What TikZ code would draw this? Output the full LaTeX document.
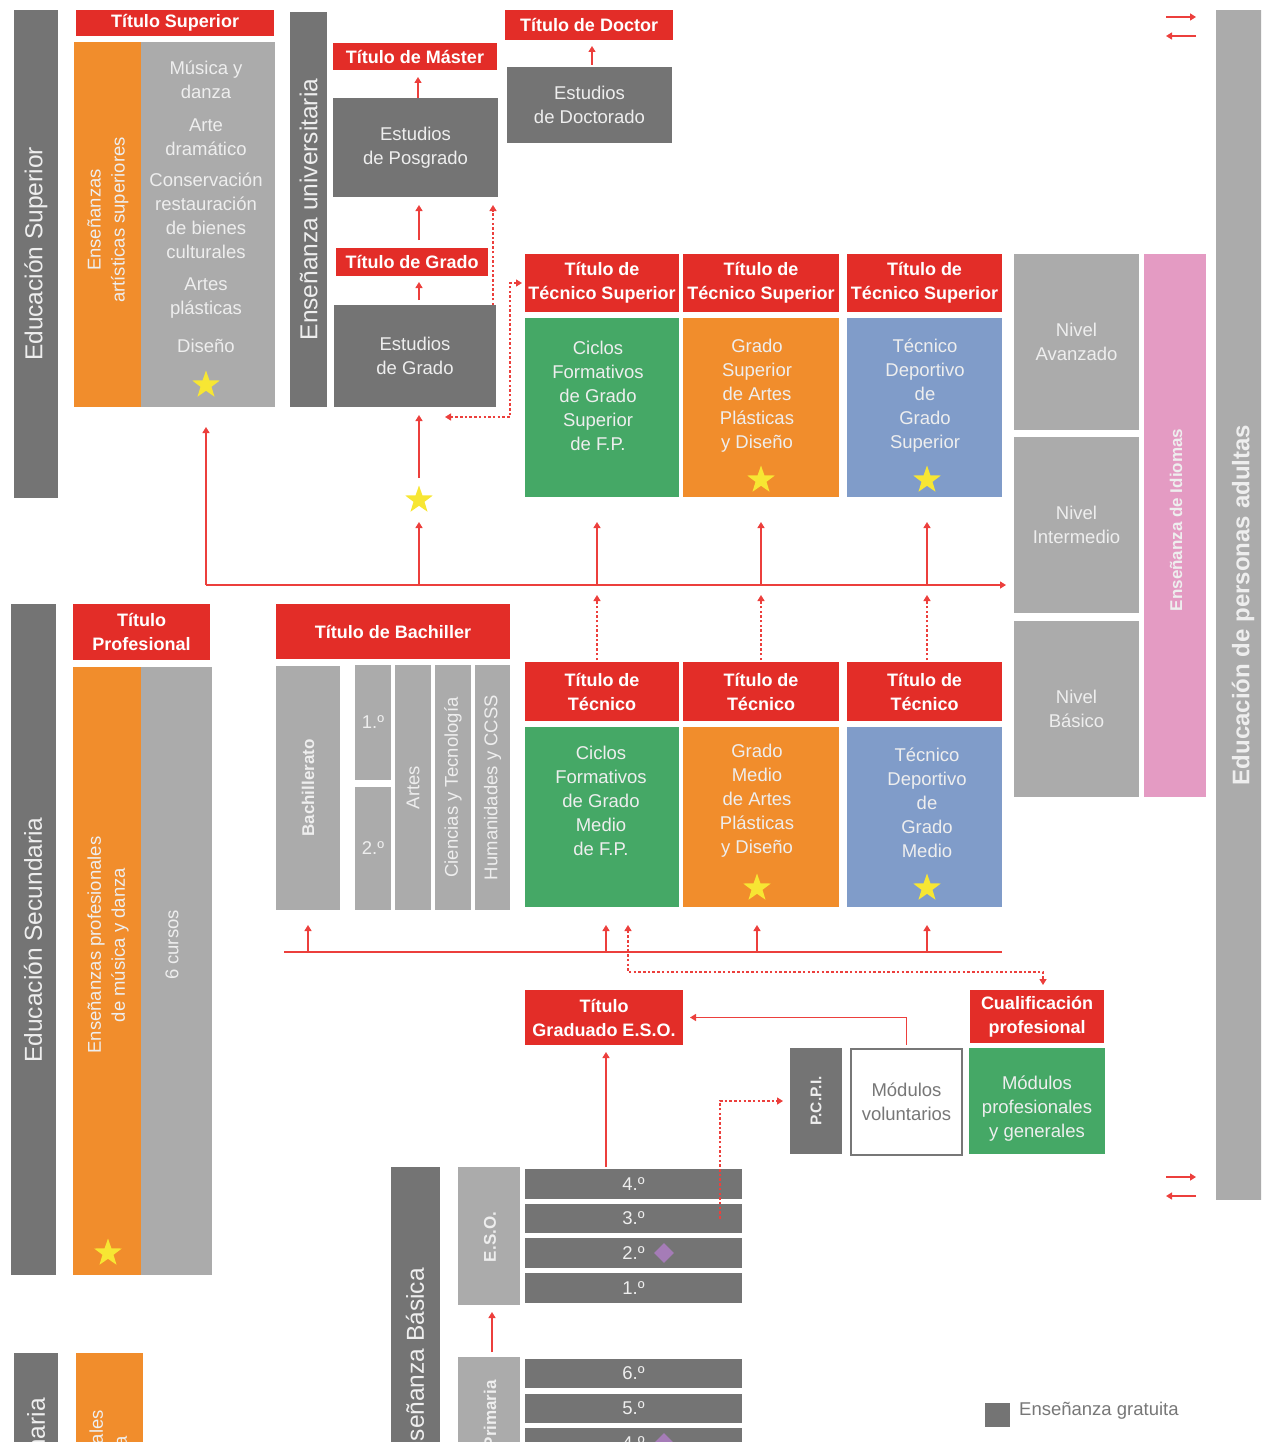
\documentclass[tikz,border=0pt]{standalone}
\usepackage{fontspec}
\setmainfont{Liberation Sans}
\usetikzlibrary{shapes.geometric,arrows.meta,calc}
\definecolor{cred}{HTML}{E32D28}
\definecolor{lred}{HTML}{EC3F3C}
\definecolor{dgray}{HTML}{747474}
\definecolor{lgray}{HTML}{ABABAB}
\definecolor{corange}{HTML}{F18D2C}
\definecolor{cgreen}{HTML}{45A866}
\definecolor{cblue}{HTML}{809CC9}
\definecolor{cpink}{HTML}{E49BC3}
\definecolor{cyellow}{HTML}{F7E633}
\definecolor{cpurple}{HTML}{A57CB7}
\definecolor{txtl}{HTML}{EEEEEE}
\definecolor{txtd}{HTML}{777777}
\newcommand\fbody{\fontsize{18.5}{24}\selectfont}
\newcommand\fhead{\bfseries\fontsize{18}{24}\selectfont}
\newcommand\fbig{\fontsize{24.5}{28}\selectfont}
\newcommand\fbbig{\bfseries\fontsize{24}{28}\selectfont}
\newcommand\fbsmall{\bfseries\fontsize{17}{22}\selectfont}
\newcommand\mybox[7]{\node[#2,anchor=north west,minimum width={#5-#3},minimum height={#6-#4}] (#1) at (#3,#4) {#7};}
\begin{document}
\begin{tikzpicture}[x=1pt,y=-1pt,>={Triangle[width=7pt,length=6pt]},
 base/.style={inner sep=0pt,outer sep=0pt,align=center,text=txtl,font=\fbody},
 hdr/.style={base,fill=cred,text=white,font=\fhead},
 dg/.style={base,fill=dgray}, lg/.style={base,fill=lgray}, og/.style={base,fill=corange},
 gn/.style={base,fill=cgreen}, bl/.style={base,fill=cblue}, pk/.style={base,fill=cpink},
 wb/.style={base,fill=white,draw=txtd,line width=1.5pt,text=txtd},
 txt/.style={inner sep=0pt,align=center,text=txtl,font=\fbody},
 rot/.style={txt,rotate=90},
 rline/.style={draw=lred,line width=1.4pt},
 arr/.style={rline,->},
 darr/.style={arr,dash pattern=on 2.5pt off 2.2pt},
 stern/.style={star,star points=5,star point ratio=2.5,fill=cyellow,minimum size=29pt,inner sep=0pt},
 rhomb/.style={diamond,fill=cpurple,minimum size=20pt,inner sep=0pt},
]
\useasboundingbox (0,0) rectangle (1261,1442);
\clip (0,0) rectangle (1261,1442);

% ---------- Educacion Superior ----------
\mybox{edsup}{dg}{14}{10}{58}{498}{}
\node[rot,font=\fbig] (edsupt) at (edsup.center) {Educación Superior};
\mybox{tsupart}{hdr}{76}{10}{274}{36}{Título Superior}
\mybox{artor}{og}{74}{42}{141}{407}{}
\mybox{artgr}{lg}{141}{42}{275}{407}{}
\node[rot] (artort) at (108,220) {Enseñanzas\\artísticas superiores};
\node[txt] (a1) at (206,80) {Música y\\danza};
\node[txt] (a2) at (206,137) {Arte\\dramático};
\node[txt] (a3) at (206,216) {Conservación\\restauración\\de bienes\\culturales};
\node[txt] (a4) at (206,298) {Artes\\plásticas};
\node[txt] (a5) at (206,346) {Diseño};
\node[stern] (st0) at (206,385) {};

\mybox{univ}{dg}{290}{12}{327}{407}{}
\node[rot,font=\fbig] (univt) at (univ.center) {Enseñanza universitaria};
\mybox{tmaster}{hdr}{333}{43}{497}{70}{Título de Máster}
\mybox{posgrado}{dg}{333}{98}{498}{197}{Estudios\\de Posgrado}
\mybox{tgrado}{hdr}{336}{248}{488}{276}{Título de Grado}
\mybox{egrado}{dg}{334}{305}{496}{407}{Estudios\\de Grado}
\mybox{tdoc}{hdr}{505}{10}{673}{40}{Título de Doctor}
\mybox{edoc}{dg}{507}{67}{672}{143}{Estudios\\de Doctorado}

% ---------- Tecnico Superior ----------
\mybox{hs1}{hdr}{525}{254}{679}{312}{Título de\\Técnico Superior}
\mybox{hs2}{hdr}{683}{254}{839}{312}{Título de\\Técnico Superior}
\mybox{hs3}{hdr}{847}{254}{1002}{312}{Título de\\Técnico Superior}
\mybox{cs1}{gn}{525}{318}{679}{497}{}
\mybox{cs2}{og}{683}{318}{839}{497}{}
\mybox{cs3}{bl}{847}{318}{1002}{497}{}
\node[txt] (cs1t) at (598,396) {Ciclos\\Formativos\\de Grado\\Superior\\de F.P.};
\node[txt] (cs2t) at (757,396) {Grado\\Superior\\de Artes\\Plásticas\\y Diseño};
\node[txt] (cs3t) at (925,396) {Técnico\\Deportivo\\de\\Grado\\Superior};
\node[stern] (st1) at (761,480) {};
\node[stern] (st2) at (927,480) {};

% ---------- Idiomas / adultos ----------
\mybox{nav}{lg}{1014}{254}{1139}{430}{Nivel\\Avanzado}
\mybox{nint}{lg}{1014}{437}{1139}{613}{Nivel\\Intermedio}
\mybox{nbas}{lg}{1014}{621}{1139}{797}{Nivel\\Básico}
\mybox{idiom}{pk}{1144}{254}{1206}{797}{}
\node[rot,font=\fbsmall] (idiomt) at (1176,520) {Enseñanza de Idiomas};
\mybox{adult}{lg}{1216}{10}{1270}{1200}{}
\node[rot,font=\fbbig] (adultt) at (1243,605) {Educación de personas adultas};

% ---------- Educacion Secundaria ----------
\mybox{edsec}{dg}{11}{604}{56}{1275}{}
\node[rot,font=\fbig] (edsect) at (33,940) {Educación Secundaria};
\mybox{tprof}{hdr}{73}{604}{210}{660}{Título\\Profesional}
\mybox{profor}{og}{73}{667}{141}{1275}{}
\mybox{profgr}{lg}{141}{667}{212}{1275}{}
\node[rot] (profort) at (108,945) {Enseñanzas profesionales\\de música y danza};
\node[rot] (profgrt) at (172,945) {6 cursos};
\node[stern] (st3) at (108,1253) {};

\mybox{tbach}{hdr}{276}{604}{510}{659}{Título de Bachiller}
\mybox{bach}{lg}{276}{666}{340}{910}{}
\node[rot,font=\fbsmall] (bacht) at (bach.center) {Bachillerato};
\mybox{b1}{lg}{355}{665}{391}{780}{1.º}
\mybox{b2}{lg}{355}{787}{391}{910}{2.º}
\mybox{bart}{lg}{395}{665}{431}{910}{}
\mybox{bcie}{lg}{435}{665}{471}{910}{}
\mybox{bhum}{lg}{475}{665}{510}{910}{}
\node[rot] (bartt) at (bart.center) {Artes};
\node[rot] (bciet) at (bcie.center) {Ciencias y Tecnología};
\node[rot] (bhumt) at (bhum.center) {Humanidades y CCSS};

\mybox{hm1}{hdr}{525}{662}{679}{721}{Título de\\Técnico}
\mybox{hm2}{hdr}{683}{662}{839}{721}{Título de\\Técnico}
\mybox{hm3}{hdr}{847}{662}{1002}{721}{Título de\\Técnico}
\mybox{cm1}{gn}{525}{727}{679}{907}{}
\mybox{cm2}{og}{683}{727}{839}{907}{}
\mybox{cm3}{bl}{847}{727}{1002}{907}{}
\node[txt] (cm1t) at (601,801) {Ciclos\\Formativos\\de Grado\\Medio\\de F.P.};
\node[txt] (cm2t) at (757,801) {Grado\\Medio\\de Artes\\Plásticas\\y Diseño};
\node[txt] (cm3t) at (927,803) {Técnico\\Deportivo\\de\\Grado\\Medio};
\node[stern] (st4) at (757,888) {};
\node[stern] (st5) at (927,888) {};

% ---------- ESO / PCPI ----------
\mybox{tgeso}{hdr}{525}{990}{683}{1045}{Título\\Graduado E.S.O.}
\mybox{pcpi}{dg}{790}{1048}{842}{1154}{}
\node[rot,font=\bfseries\fontsize{15.5}{20}\selectfont] (pcpit) at (pcpi.center) {P.C.P.I.};
\mybox{modvol}{wb}{851}{1049}{962}{1155}{Módulos\\voluntarios}
\mybox{cual}{hdr}{970}{990}{1104}{1043}{Cualificación\\profesional}
\mybox{modpro}{gn}{969}{1048}{1105}{1154}{}
\node[txt] (modprot) at (1037,1109) {Módulos\\profesionales\\y generales};

% ---------- Ensenanza Basica ----------
\mybox{basic}{dg}{391}{1167}{440}{1470}{}
\node[rot,font=\fbig,anchor=east] (basict) at (415,1268) {Enseñanza Básica};
\mybox{esobox}{lg}{458}{1167}{520}{1305}{}
\node[rot,font=\fbsmall] (esot) at (490,1237) {E.S.O.};
\mybox{e4}{dg}{525}{1169}{742}{1199}{4.º}
\mybox{e3}{dg}{525}{1204}{742}{1233}{3.º}
\mybox{e2}{dg}{525}{1238}{742}{1268}{2.º}
\mybox{e1}{dg}{525}{1273}{742}{1303}{1.º}
\node[rhomb] (dm1) at (664,1253) {};
\mybox{prim}{lg}{458}{1357}{520}{1470}{}
\node[rot,font=\fbsmall,anchor=east] (primt) at (490,1380) {Primaria};
\mybox{p6}{dg}{525}{1359}{742}{1388}{6.º}
\mybox{p5}{dg}{525}{1394}{742}{1423}{5.º}
\mybox{p4}{dg}{525}{1428}{742}{1458}{4.º}
\node[rhomb] (dm2) at (664,1443) {};

\mybox{edprim}{dg}{14}{1353}{58}{1470}{}
\node[rot,font=\fbig,anchor=east] (edprimt) at (36,1398) {Educación Primaria};
\mybox{elemor}{og}{76}{1353}{143}{1470}{}
\node[rot,anchor=east] (elemort) at (110,1410) {Enseñanzas elementales\\de música y danza};

% ---------- legend ----------
\mybox{legsq}{dg}{985}{1403}{1010}{1427}{}
\node[anchor=west,inner sep=0pt,text=txtd,font=\fbody] (legt) at (1019,1411) {Enseñanza gratuita};
\coordinate (la1) at (1166,17);  \coordinate (lb1) at (1196,17);
\coordinate (la2) at (1166,36);  \coordinate (lb2) at (1196,36);
\coordinate (la3) at (1166,1177); \coordinate (lb3) at (1196,1177);
\coordinate (la4) at (1166,1196); \coordinate (lb4) at (1196,1196);
\draw[arr] (la1) -- (lb1);
\draw[arr] (lb2) -- (la2);
\draw[arr] (la3) -- (lb3);
\draw[arr] (lb4) -- (la4);

% ---------- connectors: university ----------
\draw[arr,shorten >=7pt] (posgrado.north -| 418,0) -- (tmaster.south -| 418,0);
\draw[arr,shorten <=8pt,shorten >=8pt] (tgrado.north -| 419,0) -- (posgrado.south -| 419,0);
\draw[arr,shorten <=5pt,shorten >=6pt] (egrado.north -| 419,0) -- (tgrado.south -| 419,0);
\draw[darr,shorten >=8pt] (egrado.north -| 493,0) -- (posgrado.south -| 493,0);
\draw[arr,shorten <=2pt,shorten >=6pt] (edoc.north -| 592,0) -- (tdoc.south -| 592,0);
\coordinate (gradoin) at (445,417);
\draw[darr,<->,shorten >=3pt] (gradoin) -| (hs1.west -| 510,0) -- (hs1.west);

% ---------- main line ----------
\coordinate (mainL) at (206,585);
\coordinate (mainR) at (1006,585);
\draw[arr] (mainL) -- (mainR);
\draw[arr,shorten >=20pt] (mainL) -- (mainL |- artgr.south);
\node[stern] (stg) at (419,500) {};
\draw[arr] (mainL -| 419,0) -- ($(stg)+(0,22)$);
\draw[arr,shorten >=8pt] ($(stg)+(0,-22)$) -- (egrado.south -| 419,0);
\draw[arr,shorten >=25pt] (mainL -| 597,0) -- (cs1.south -| 597,0);
\draw[arr,shorten >=25pt] (mainL -| 761,0) -- (cs2.south -| 761,0);
\draw[arr,shorten >=25pt] (mainL -| 927,0) -- (cs3.south -| 927,0);
\draw[darr,shorten <=2pt,shorten >=10pt] (hm1.north -| 597,0) -- (mainL -| 597,0);
\draw[darr,shorten <=2pt,shorten >=10pt] (hm2.north -| 761,0) -- (mainL -| 761,0);
\draw[darr,shorten <=2pt,shorten >=10pt] (hm3.north -| 927,0) -- (mainL -| 927,0);

% ---------- lower line ----------
\coordinate (lowL) at (284,952);
\coordinate (lowR) at (1002,952);
\draw[rline] (lowL) -- (lowR);
\draw[arr,shorten >=15pt] (lowL -| 308,0) -- (bach.south -| 308,0);
\draw[arr,shorten >=18pt] (lowL -| 606,0) -- (cm1.south -| 606,0);
\draw[arr,shorten >=18pt] (lowL -| 757,0) -- (cm2.south -| 757,0);
\draw[arr,shorten >=18pt] (lowL -| 927,0) -- (cm3.south -| 927,0);
\draw[darr,<->,shorten <=18pt,shorten >=5pt] (cm1.south -| 628,0) -- (628,972) -| (cual.north -| 1043,0);

% ---------- ESO connectors ----------
\draw[arr,shorten <=2pt,shorten >=7pt] (e4.north -| 606,0) -- (tgeso.south -| 606,0);
\draw[arr,shorten <=4pt,shorten >=7pt] (modvol.north) |- (tgeso.east);
\draw[darr,shorten >=7pt] (e3.center -| 720,0) |- (pcpi.west);
\draw[arr,shorten <=5pt,shorten >=7pt] (prim.north -| 492,0) -- (esobox.south -| 492,0);
\end{tikzpicture}
\end{document}
